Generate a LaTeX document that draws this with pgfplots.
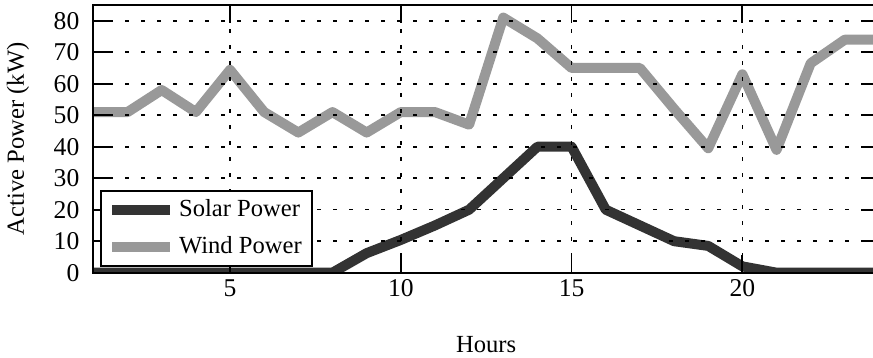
\documentclass[border=0pt]{standalone}
\usepackage{pgfplots}
\pgfplotsset{compat=1.18}
\usepackage{fontspec}
\setmainfont{Liberation Serif}
\definecolor{solarc}{HTML}{333333}
\definecolor{windc}{HTML}{999999}
\begin{document}
\begin{tikzpicture}[font=\fontsize{12.3}{14}\selectfont]
\begin{axis}[
  scale only axis,
  width=392.8pt, height=133.85pt,
  xmin=1, xmax=24, ymin=0, ymax=85,
  xtick={5,10,15,20}, ytick={0,10,...,80},
  /pgf/number format/assume math mode=true,
  tick label style={font=\fontsize{12.8}{14}\selectfont},
  yticklabel style={xshift=-3.5pt},
  label style={font=\fontsize{12.3}{14}\selectfont},
  tick align=inside,
  major tick length=9pt,
  major tick style={line width=0.9pt, black},
  axis line style={line width=1.1pt},
  grid=major,
  major grid style={black, line width=0.8pt, dash pattern=on 2pt off 6pt},
  axis on top,
  xlabel={Hours},
  ylabel={Active Power (kW)},
  xlabel style={yshift=-13pt},
  ylabel style={yshift=5.5pt},
  legend style={at={(0.0085,0.0224)}, anchor=south west, draw=black, line width=1pt,
    fill=white, font=\fontsize{12.3}{14}\selectfont, row sep=4.5pt, inner xsep=3pt, inner ysep=2.5pt},
  legend cell align=left,
  legend image code/.code={\draw[#1, line width=5pt] (0pt,0pt) -- (22.5pt,0pt); \path (0pt,0pt) -- (29pt,0pt);},
]
\addplot[solarc, line width=5pt, line join=round] coordinates {
(1,0) (2,0) (3,0) (4,0) (5,0) (6,0) (7,0) (8,0) (9,6.2) (10,10.4) (11,15) (12,20)
(13,30) (14,40) (15,40) (16,20) (17,15) (18,10) (19,8.5) (20,2) (21,0) (22,0) (23,0) (24,0)};
\addlegendentry{Solar Power}
\addplot[windc, line width=5pt, line join=round] coordinates {
(1,51) (2,51) (3,58) (4,51) (5,64.4) (6,51) (7,44.5) (8,51) (9,44.5) (10,51) (11,51) (12,47)
(13,81) (14,74.4) (15,65) (16,65) (17,65) (18,52) (19,39.5) (20,63) (21,39) (22,66.5) (23,74) (24,74)};
\addlegendentry{Wind Power}
\end{axis}
\pgfresetboundingbox
\path[use as bounding box] ([shift={(-46.7pt,-42.65pt)}]current axis.south west) rectangle ([shift={(-3pt,2.5pt)}]current axis.north east);
\end{tikzpicture}
\end{document}
